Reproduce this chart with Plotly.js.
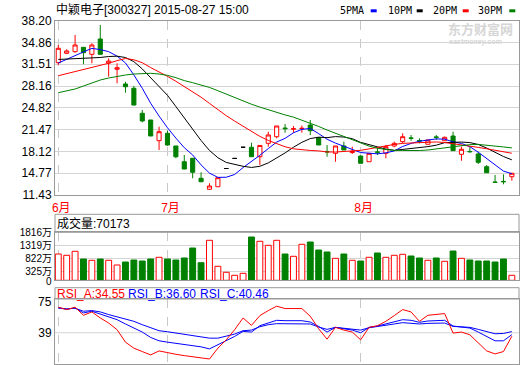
<!DOCTYPE html>
<html><head><meta charset="utf-8">
<script src="https://cdn.plot.ly/plotly-3.0.1.min.js"></script>
<style>html,body{margin:0;padding:0;background:#fff}#chart{width:520px;height:365px}</style>
</head><body><div id="chart"></div>
<script>
// ---------- data ----------
const titleText = '中颖电子[300327] 2015-08-27 15:00';
const monthStart = [0, 13, 36];
const monthLabels = ['6月', '7月', '8月'];
const priceTicks = [11.43, 14.77, 18.12, 21.47, 24.82, 28.16, 31.51, 34.86, 38.20];
const volTicks = [0, 325, 822, 1319, 1816];
const volTickLabels = ['0', '325万', '822万', '1319万', '1816万'];
const rsiTicks = [0, 39, 75];

const open  = [31.75,33.19,33.44,34.11,33.04,35.39,31.70,30.74,28.48,27.82,23.98,22.95,19.77,20.91,18.96,16.54,17.07,14.00,12.31,12.70,15.50,17.05,18.76,18.76,17.31,19.37,20.38,21.72,21.55,21.62,22.18,20.23,18.12,17.83,18.96,17.95,17.42,16.54,18.05,17.83,18.96,19.62,20.20,19.78,19.22,20.35,19.77,20.49,17.68,18.12,17.73,15.78,13.42,13.52,14.24];
const high  = [34.47,33.81,36.00,34.11,34.73,37.54,32.43,31.66,28.83,28.17,24.49,22.95,21.92,21.31,18.96,17.57,17.10,14.92,13.23,14.09,15.50,17.05,18.76,19.46,19.04,21.15,22.03,22.33,22.03,22.10,22.95,20.30,19.11,18.96,19.62,18.85,17.50,17.83,18.60,19.11,19.62,20.91,20.65,20.14,19.88,20.65,20.40,21.15,18.85,18.85,18.08,16.04,14.50,14.60,14.80];
const low   = [31.40,33.09,33.29,31.50,31.66,33.00,29.60,28.59,27.14,25.20,22.60,20.49,18.34,19.00,17.07,15.40,14.00,13.40,12.20,12.70,15.50,17.05,18.76,17.30,16.04,18.85,20.14,21.00,21.00,21.00,20.65,19.10,17.31,16.54,18.34,17.73,16.30,16.54,17.57,17.07,18.76,19.37,19.77,19.37,19.22,19.88,19.77,18.20,16.69,17.93,16.19,14.85,13.37,13.07,13.63];
const close = [33.96,33.55,34.47,33.29,34.47,33.04,32.00,30.98,28.06,25.25,22.80,20.49,21.15,19.11,17.31,15.42,14.92,13.47,12.81,14.09,15.50,17.05,18.76,17.31,19.04,20.65,22.03,21.62,21.60,21.67,21.31,19.11,18.05,18.96,18.34,18.10,16.30,17.83,17.99,18.85,19.37,20.38,20.14,19.72,19.88,20.29,20.29,18.24,18.45,18.08,16.45,14.85,13.37,13.47,14.77];

const ma5  = [31.7,32.3,32.9,33.4,33.95,33.76,33.45,32.76,31.71,29.87,27.82,25.52,23.55,21.76,20.17,18.70,17.58,16.05,14.79,14.14,14.16,14.58,15.64,16.54,17.53,18.56,19.56,20.13,20.99,21.51,21.65,20.85,20.0,19.4,18.9,18.35,17.95,17.85,17.75,17.9,18.2,18.88,19.35,19.69,19.90,20.05,20.0,19.6,19.35,18.85,18.0,17.0,16.0,15.1,14.7];
const ma10 = [32.25,32.3,32.35,32.4,32.45,32.55,32.7,32.75,32.55,31.91,30.79,29.49,28.15,26.74,25.02,23.26,21.55,19.80,18.27,17.16,16.43,16.08,15.84,15.66,15.84,16.36,17.07,17.89,18.77,19.52,20.10,20.31,20.24,20.40,20.33,20.08,19.51,19.13,18.77,18.48,18.29,18.42,18.63,18.70,18.86,19.08,19.47,19.52,19.56,19.48,19.19,18.64,17.96,17.34,16.83];
const ma20 = [29.75,30.05,30.37,30.7,31.04,31.35,31.66,32.06,32.4,32.2,31.75,31.0,30.35,29.65,28.9,28.1,27.3,26.45,25.5,24.53,23.61,22.78,22.00,21.20,20.43,19.81,19.31,18.84,18.52,18.34,18.27,18.20,18.04,18.03,18.09,18.22,18.29,18.51,18.77,19.00,19.20,19.36,19.43,19.55,19.60,19.58,19.49,19.32,19.16,18.98,18.74,18.53,18.29,18.02,17.84];
const ma30 = [27.14,27.4,27.71,28.17,28.68,29.09,29.40,29.66,29.86,30.01,30.12,30.12,30.01,29.81,29.45,29.0,28.68,28.37,27.95,27.45,26.9,26.38,25.88,25.37,24.93,24.5,24.1,23.73,23.39,22.95,22.44,21.96,21.41,20.93,20.40,19.90,19.38,18.94,18.60,18.39,18.27,18.27,18.24,18.26,18.34,18.50,18.68,18.84,19.03,19.16,19.20,19.12,18.94,18.81,18.67];

const volume = [995,946,1097,806,757,806,757,579,692,768,730,806,870,806,768,844,1222,666,1513,530,303,189,265,1638,1476,1324,1513,995,908,1362,1449,1146,1071,832,995,757,730,870,1033,870,946,984,919,844,757,844,719,1108,832,768,730,730,692,806,189];
const volumeLabel = '成交量:70173';

const rsiA = [71.6,68.6,71.6,61.3,65.6,57.9,51.4,42.9,27.0,19.3,15.0,10.7,15.8,13.3,11.5,9.8,8.5,7.2,5.5,19.3,30.0,42.9,57.9,48.4,60.9,67.3,72.9,69.9,69.9,69.9,60.0,44.1,30.8,45.9,42.4,39.9,30.0,45.9,48.0,53.6,60.9,68.6,65.6,53.6,61.3,62.2,63.5,38.6,39.9,36.4,26.6,15.8,12.0,15.0,34.55];
const rsiB = [70.7,69.0,70.7,64.3,66.5,63.0,58.7,55.7,50.2,45.0,39.9,33.0,28.7,27.0,25.7,24.4,22.7,21.0,18.4,23.6,28.7,34.3,40.7,39.9,48.0,51.4,54.9,54.4,54.4,54.4,52.7,47.1,39.9,45.9,44.1,42.4,39.0,45.9,47.6,50.6,53.6,55.7,54.9,52.3,54.0,54.4,54.9,47.6,46.7,45.0,39.9,33.8,28.7,28.7,36.60];
const rsiC = [70.7,69.5,70.3,66.5,67.3,65.6,62.2,59.6,57.0,53.6,49.3,45.0,41.6,40.3,38.6,37.3,35.6,33.8,32.1,32.1,34.7,37.3,41.6,42.4,46.7,49.3,50.6,50.6,50.6,50.6,50.2,46.3,43.3,45.9,45.0,44.1,42.4,45.4,46.7,48.4,50.2,51.9,51.4,50.2,51.0,51.0,51.4,47.1,46.7,45.9,43.3,40.7,37.7,38.1,40.46];
const rsiLabels = ['RSI_A:34.55', 'RSI_B:36.60', 'RSI_C:40.46'];
const maLabels = ['5PMA', '10PM', '20PM', '30PM'];

// ---------- styling ----------
const W = 520, H = 365;
const RED = '#ff0000', GREEN = '#008000', BLUE = '#0000ff', BLACK = '#000000';
const SANS = 'Liberation Sans, Noto Sans CJK SC, sans-serif';
const MONO = 'DejaVu Sans Mono, Noto Sans CJK SC, monospace';
const px = x => x / W;
const py = y => 1 - y / H;

const xs = close.map((_, i) => i);
const isFlat = xs.map(i => open[i] === high[i] && high[i] === low[i] && low[i] === close[i]);
const isUp = xs.map(i => close[i] >= open[i]);
const pick = (arr, mask) => xs.filter(i => mask[i]).map(i => arr[i]);
const normal = isFlat.map(f => !f);

const traces = [];
traces.push({
  type: 'candlestick', xaxis: 'x', yaxis: 'y',
  x: pick(xs, normal), open: pick(open, normal), high: pick(high, normal),
  low: pick(low, normal), close: pick(close, normal),
  increasing: {line: {color: RED, width: 1}, fillcolor: '#ffffff'},
  decreasing: {line: {color: GREEN, width: 1}, fillcolor: GREEN},
  whiskerwidth: 0, hoverinfo: 'skip'
});
traces.push({
  type: 'candlestick', xaxis: 'x', yaxis: 'y',
  x: pick(xs, isFlat), open: pick(open, isFlat), high: pick(high, isFlat),
  low: pick(low, isFlat), close: pick(close, isFlat),
  increasing: {line: {color: BLACK, width: 1}, fillcolor: BLACK},
  decreasing: {line: {color: BLACK, width: 1}, fillcolor: BLACK},
  whiskerwidth: 0, hoverinfo: 'skip'
});
[[ma5, BLUE], [ma10, BLACK], [ma20, RED], [ma30, GREEN]].forEach(([arr, c]) => {
  traces.push({type: 'scatter', mode: 'lines', xaxis: 'x', yaxis: 'y', x: xs, y: arr,
    line: {color: c, width: 1}, hoverinfo: 'skip'});
});
const down = isUp.map(u => !u);
traces.push({type: 'bar', xaxis: 'x2', yaxis: 'y2', x: pick(xs, isUp), y: pick(volume, isUp),
  width: 0.7, marker: {color: '#ffffff', line: {color: RED, width: 1}}, hoverinfo: 'skip'});
traces.push({type: 'bar', xaxis: 'x2', yaxis: 'y2', x: pick(xs, down), y: pick(volume, down),
  width: 0.7, marker: {color: GREEN, line: {color: GREEN, width: 1}}, hoverinfo: 'skip'});
[[rsiC, BLUE], [rsiB, BLUE], [rsiA, RED]].forEach(([arr, c]) => {
  traces.push({type: 'scatter', mode: 'lines', xaxis: 'x3', yaxis: 'y3', x: xs, y: arr,
    line: {color: c, width: 1}, hoverinfo: 'skip'});
});

const xRange = [-0.39, 54.85];
const xDomain = [px(55), px(519)];
const BORDER = '#999999';
const GRID = '#d4d4d4';
const xCommon = {
  range: xRange, domain: xDomain, tickvals: monthStart, showgrid: true,
  gridcolor: '#c8c8c8', griddash: 'dash', gridwidth: 1, zeroline: false,
  showline: true, mirror: true, linecolor: BORDER, linewidth: 1, ticks: '',
  fixedrange: true
};

const layout = {
  width: W, height: H, margin: {l: 0, r: 0, t: 0, b: 0},
  paper_bgcolor: '#ffffff', plot_bgcolor: '#ffffff', showlegend: false,
  font: {family: SANS, size: 12, color: '#000'},
  xaxis: Object.assign({}, xCommon, {anchor: 'y', ticktext: monthLabels, showticklabels: true,
    tickfont: {color: RED, size: 12, family: SANS}, ticklabelshift: 3, ticklabelstandoff: 2,
    rangeslider: {visible: false}}),
  xaxis2: Object.assign({}, xCommon, {anchor: 'y2', showticklabels: false}),
  xaxis3: Object.assign({}, xCommon, {anchor: 'y3', showticklabels: false}),
  yaxis: {domain: [py(195), py(20.7)], range: [11.43, 38.20], tickvals: priceTicks,
    tickformat: '.2f', showgrid: true, gridcolor: GRID, zeroline: false, showline: true,
    mirror: true, linecolor: BORDER, ticks: '', tickfont: {size: 12, family: SANS}, fixedrange: true},
  yaxis2: {domain: [py(280.3), py(232.3)], range: [0, 1816], tickvals: volTicks.slice(1),
    ticktext: volTickLabels.slice(1),
    showgrid: true, gridcolor: GRID, zeroline: false, showline: true, mirror: true,
    linecolor: BORDER, ticks: '', tickfont: {size: 10, family: SANS}, fixedrange: true},
  yaxis3: {domain: [py(363.5), py(299)], range: [-0.26, 82.1], tickvals: rsiTicks.slice(0, 2),
    showgrid: false, zeroline: false, showline: true, mirror: true,
    linecolor: BORDER, ticks: '', tickfont: {size: 12, family: SANS}, fixedrange: true},
  shapes: [], annotations: []
};

// RSI 39 gridline
layout.shapes.push({type: 'line', xref: 'x3 domain', yref: 'y3', x0: 0, x1: 1, y0: rsiTicks[1], y1: rsiTicks[1],
  line: {color: GRID, width: 1}, layer: 'below'});
// header boxes
layout.shapes.push({type: 'rect', xref: 'paper', yref: 'paper', x0: px(55), x1: px(519), y0: py(232.3), y1: py(214.3),
  line: {color: BORDER, width: 1}, fillcolor: 'rgba(0,0,0,0)'});
layout.shapes.push({type: 'rect', xref: 'paper', yref: 'paper', x0: px(55), x1: px(519), y0: py(299), y1: py(287.7),
  line: {color: BORDER, width: 1}, fillcolor: 'rgba(0,0,0,0)'});

function ann(text, x, y, font, extra) {
  layout.annotations.push(Object.assign({text, xref: 'paper', yref: 'paper', x: px(x), y: py(y),
    xanchor: 'left', yanchor: 'middle', showarrow: false, font, borderpad: 0}, extra || {}));
}
ann(titleText, 55, 9.5, {family: SANS, size: 12, color: BLACK});
const legendX = [340, 387.7, 432.7, 478.3];
const legendMarkX = [370.7, 416.7, 462.7, 509.3];
const legendColors = [BLUE, BLACK, RED, GREEN];
maLabels.forEach((t, i) => {
  ann(t, legendX[i] - 1, 10.5, {family: MONO, size: 10, color: BLACK});
  layout.shapes.push({type: 'rect', xref: 'paper', yref: 'paper', x0: px(legendMarkX[i]), x1: px(legendMarkX[i] + 6),
    y0: py(12.3), y1: py(9.3), line: {width: 0}, fillcolor: legendColors[i]});
});
ann(volumeLabel, 56, 223, {family: SANS, size: 12, color: BLACK});
// axis-end labels placed as in the reference
ann(volTickLabels[0], 52.5, 281.5, {family: SANS, size: 10, color: BLACK}, {xanchor: 'right'});
ann(String(rsiTicks[2]), 52.5, 302, {family: SANS, size: 12, color: BLACK}, {xanchor: 'right'});
const rsiX = [56, 127, 199];
const rsiColors = [RED, BLUE, BLUE];
rsiLabels.forEach((t, i) => ann(t, rsiX[i], 294, {family: SANS, size: 12, color: rsiColors[i]}));
// watermark
ann('<b>东方财富网</b>', 447, 28.5, {family: 'Noto Sans CJK SC', size: 13, color: '#d6d6d6'});
ann('<b><i>eastmoney.com</i></b>', 448, 41.5, {family: SANS, size: 7, color: '#d6d6d6'});

Plotly.newPlot('chart', traces, layout, {staticPlot: true, displayModeBar: false});
</script></body></html>
